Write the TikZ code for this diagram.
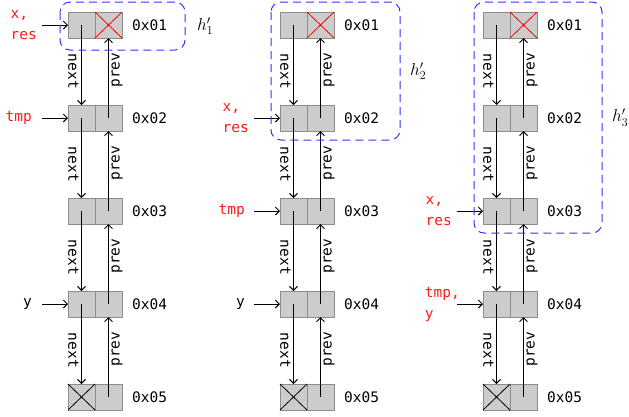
\documentclass[tikz,border=0pt]{standalone}
\usepackage{fontspec}
\setmonofont{DejaVu Sans Mono}
\usepackage{xcolor}
\usetikzlibrary{arrows.meta,positioning,calc}
\definecolor{cellgray}{HTML}{CCCCCC}
\definecolor{celledge}{HTML}{8C8C8C}
\definecolor{hblue}{HTML}{3333FF}
\definecolor{ptrred}{HTML}{FF1A1A}

\begin{document}
\begin{tikzpicture}[x=1pt, y=-1pt, >={Straight Barb[length=4pt,width=8pt]},
 font=\fontsize{14.5}{21}\selectfont\ttfamily,
 cell/.style={draw=celledge, fill=cellgray, line width=0.8pt, minimum width=27pt, minimum height=26pt, inner sep=0pt, outer sep=0pt},
 addr/.style={inner sep=0pt},
 ptr/.style={align=left, inner sep=0pt},
 link/.style={->, line width=0.9pt},
 lab/.style={inner sep=2.5pt},
 hbox/.style={draw=hblue, line width=1pt, dash pattern=on 8pt off 5pt, rounded corners=10pt},
 hlab/.style={font=\fontsize{18}{20}\selectfont\rmfamily, anchor=west, inner sep=0pt}]
\useasboundingbox (0,0) rectangle (629,416);
\foreach \col/\xx in {a/68,b/280,c/483}{
 \foreach \row/\yy in {1/25,2/118,3/211,4/304,5/397}{
  \node[cell] (\col\row l) at (\xx+13.5,\yy) {};
  \node[cell, right=0pt of \col\row l] (\col\row r) {};
  \node[addr, right=10pt of \col\row r] (\col\row t) {0x0\row};
 }
 \draw[red, line width=0.8pt] (\col1r.north west) -- (\col1r.south east) (\col1r.south west) -- (\col1r.north east);
 \draw[line width=0.8pt] (\col5l.north west) -- (\col5l.south east) (\col5l.south west) -- (\col5l.north east);
 \foreach \row [evaluate=\row as \nxt using {int(\row+1)}] in {1,...,4}{
  \draw[link] (\col\row l.center) -- (\col\nxt l.north) node[lab, pos=0.58, rotate=-90, anchor=north] {next};
  \draw[link] (\col\nxt r.center) -- (\col\row r.south) node[lab, pos=0.6, rotate=90, anchor=north] {prev};
 }
}
\coordinate[left=26pt of a1l.west] (pa1);
\coordinate[left=26pt of a2l.west] (pa2);
\coordinate[left=26pt of a4l.west] (pa4);
\coordinate[left=26pt of b2l.west] (pb2);
\coordinate[left=26pt of b3l.west] (pb3);
\coordinate[left=26pt of b4l.west] (pb4);
\coordinate[left=26pt of c3l.west] (pc3);
\coordinate[left=26pt of c4l.west] (pc4);
\node[ptr, ptrred, left=5pt of pa1] (xa) {x,\\res};
\node[ptr, ptrred, left=10pt of pa2] (tmpa) {tmp};
\node[ptr, left=10pt of pa4] (ya) {y};
\node[ptr, ptrred, left=5pt of pb2] (xb) {x,\\res};
\node[ptr, ptrred, left=9pt of pb3] (tmpb) {tmp};
\node[ptr, left=9pt of pb4] (yb) {y};
\node[ptr, ptrred, left=5pt of pc3] (xc) {x,\\res};
\node[ptr, ptrred, left=-3pt of pc4] (tmpc) {tmp,\\y};
\draw[link] (pa1) -- (a1l.west);
\draw[link] (pa2) -- (a2l.west);
\draw[link] (pa4) -- (a4l.west);
\draw[link] (pb2) -- (b2l.west);
\draw[link] (pb3) -- (b3l.west);
\draw[link] (pb4) -- (b4l.west);
\draw[link] (pc3) -- (c3l.west);
\draw[link] (pc4) -- (c4l.west);
\coordinate (h1a) at ([shift={(-8pt,10pt)}]a1l.north west);
\coordinate (h1b) at ([shift={(63pt,-12pt)}]a1r.south east);
\coordinate (h2a) at ([shift={(-9pt,10pt)}]b1l.north west);
\coordinate (h2b) at ([shift={(66pt,-9pt)}]b2r.south east);
\coordinate (h3a) at ([shift={(-9pt,10pt)}]c1l.north west);
\coordinate (h3b) at ([shift={(65pt,-9pt)}]c3r.south east);
\draw[hbox] (h1a) rectangle (h1b);
\draw[hbox] (h2a) rectangle (h2b);
\draw[hbox] (h3a) rectangle (h3b);
\node[hlab, xshift=12pt] (h1) at ($(h1a -| h1b)!0.5!(h1b)$) {$h'_1$};
\node[hlab, xshift=10pt] (h2) at ($(h2a -| h2b)!0.5!(h2b)$) {$h'_2$};
\node[hlab, xshift=10pt] (h3) at ($(h3a -| h3b)!0.5!(h3b)$) {$h'_3$};
\end{tikzpicture}
\end{document}
